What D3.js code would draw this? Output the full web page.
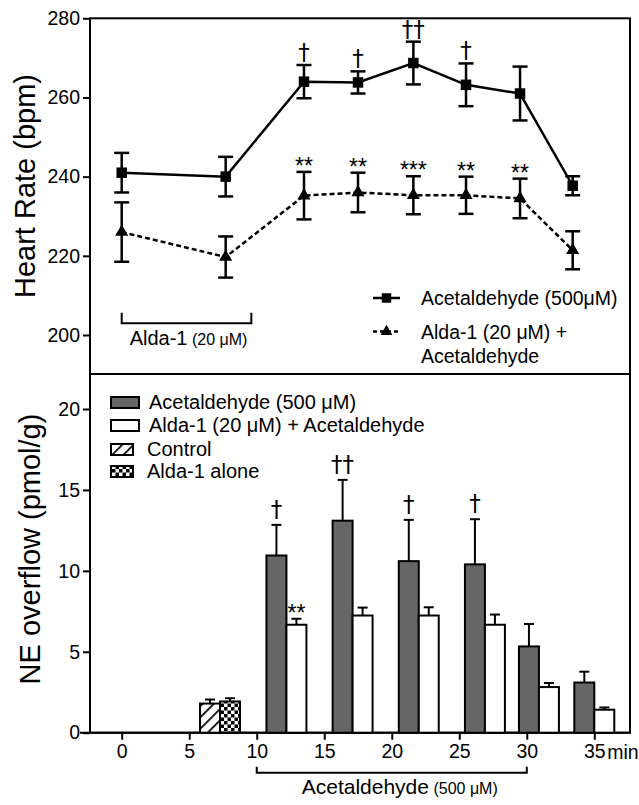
<!DOCTYPE html>
<html>
<head>
<meta charset="utf-8">
<script src="https://cdn.jsdelivr.net/npm/d3@7"></script>
<style>
  body { margin: 0; background: #fff; }
  svg text { font-family: "Liberation Sans", Arial, sans-serif; fill: #000; }
  svg text.dag { font-family: "DejaVu Sans", sans-serif; }
</style>
</head>
<body>
<div id="chart"></div>
<script>
// heart rate panel (top)
var hrTimes = [0, 7.7, 13.5, 17.5, 21.6, 25.5, 29.5, 33.4];
var hrAcet = [241, 240, 264, 263.8, 268.7, 263.2, 261, 237.7];
var hrAcetErr = [5, 5, 4.2, 2.8, 5.4, 5.4, 6.8, 2.4];
var hrAlda = [226, 219.7, 235.2, 236, 235.3, 235.3, 234.5, 221.4];
var hrAldaErr = [7.5, 5.2, 6, 5, 4.8, 4.7, 5, 4.8];
var hrAcetMarks = ["", "", "†", "†", "††", "†", "", ""];
var hrAldaMarks = ["", "", "**", "**", "***", "**", "**", ""];
var hrTicks = [200, 220, 240, 260, 280];

// NE overflow panel (bottom)
var neGroups = [12.2, 17.1, 22.0, 26.9, 30.9, 35.0];
var neAcet = [10.95, 13.1, 10.6, 10.4, 5.33, 3.1];
var neAcetErr = [1.89, 2.52, 2.55, 2.79, 1.39, 0.67];
var neAlda = [6.67, 7.24, 7.24, 6.67, 2.82, 1.42];
var neAldaErr = [0.37, 0.49, 0.51, 0.63, 0.25, 0.14];
var neAcetMarks = ["†", "††", "†", "†", "", ""];
var neAldaMarks = ["**", "", "", "", "", ""];
var baseGroup = 7.28;
var baseNames = ["Control", "Alda-1 alone"];
var baseVals = [1.8, 1.93];
var baseErr = [0.25, 0.2];
var neTicks = [0, 5, 10, 15, 20];
var timeTicks = [0, 5, 10, 15, 20, 25, 30, 35];

var W = 639, H = 805;
var left = 90, right = 630;
var topY0 = 18.3, split = 374, botY1 = 732.7;
var barW = 1.48; // minutes

var svg = d3.select("#chart").append("svg")
    .attr("width", W).attr("height", H);

var defs = svg.append("defs");
var hatch = defs.append("pattern").attr("id", "hatch")
    .attr("patternUnits", "userSpaceOnUse").attr("width", 8).attr("height", 8)
    .attr("patternTransform", "rotate(45)");
hatch.append("rect").attr("width", 8).attr("height", 8).attr("fill", "#fff");
hatch.append("line").attr("x1", 0).attr("y1", 0).attr("x2", 0).attr("y2", 8)
    .attr("stroke", "#000").attr("stroke-width", 3.5);
var checker = defs.append("pattern").attr("id", "checker")
    .attr("patternUnits", "userSpaceOnUse").attr("width", 7).attr("height", 7);
checker.append("rect").attr("width", 7).attr("height", 7).attr("fill", "#fff");
checker.append("rect").attr("width", 3.5).attr("height", 3.5).attr("fill", "#000");
checker.append("rect").attr("x", 3.5).attr("y", 3.5).attr("width", 3.5).attr("height", 3.5).attr("fill", "#000");

var x = d3.scaleLinear().domain([0, 35]).range([121.7, 594.3]);
var yTop = d3.scaleLinear().domain([200, 280]).range([335, topY0]);
var yBot = d3.scaleLinear().domain([0, 20]).range([botY1, 409]);

// ---------- top panel ----------
var gTop = svg.append("g");
gTop.append("rect").attr("x", left).attr("y", topY0)
    .attr("width", right - left).attr("height", split - topY0)
    .attr("fill", "none").attr("stroke", "#000").attr("stroke-width", 2);

var ayTop = gTop.append("g").attr("transform", "translate(" + left + ",0)")
    .call(d3.axisLeft(yTop).tickValues(hrTicks).tickSize(7).tickPadding(3));
ayTop.select(".domain").remove();

gTop.append("text")
    .attr("transform", "translate(35,186) rotate(-90)")
    .attr("text-anchor", "middle").style("font-size", "29px")
    .text("Heart Rate (bpm)");

function drawSeries(g, vals, errs, dash, symbol, size) {
    var pts = hrTimes.map(function(t, i) { return {t: t, v: vals[i], e: errs[i]}; });
    var line = d3.line().x(d => x(d.t)).y(d => yTop(d.v));
    g.append("path").datum(pts).attr("d", line)
        .attr("fill", "none").attr("stroke", "#000").attr("stroke-width", 2.5)
        .attr("stroke-dasharray", dash);
    var eb = g.selectAll(null).data(pts).enter().append("g");
    eb.append("line").attr("x1", d => x(d.t)).attr("x2", d => x(d.t))
        .attr("y1", d => yTop(d.v - d.e)).attr("y2", d => yTop(d.v + d.e));
    eb.append("line").attr("x1", d => x(d.t) - 7.5).attr("x2", d => x(d.t) + 7.5)
        .attr("y1", d => yTop(d.v + d.e)).attr("y2", d => yTop(d.v + d.e));
    eb.append("line").attr("x1", d => x(d.t) - 7.5).attr("x2", d => x(d.t) + 7.5)
        .attr("y1", d => yTop(d.v - d.e)).attr("y2", d => yTop(d.v - d.e));
    eb.selectAll("line").attr("stroke", "#000").attr("stroke-width", 2.5);
    g.selectAll(null).data(pts).enter().append("path")
        .attr("d", d3.symbol().type(symbol).size(size))
        .attr("transform", d => "translate(" + x(d.t) + "," + yTop(d.v) + ")")
        .attr("fill", "#000");
    return pts;
}
var ptsAcet = drawSeries(gTop, hrAcet, hrAcetErr, null, d3.symbolSquare, 110);
var ptsAlda = drawSeries(gTop, hrAlda, hrAldaErr, "5,3", d3.symbolTriangle, 75);

gTop.selectAll(null).data(ptsAcet).enter().append("text")
    .attr("class", "dag")
    .attr("x", d => x(d.t)).attr("y", d => yTop(d.v + d.e) - 5)
    .attr("text-anchor", "middle").style("font-size", "23px")
    .text((d, i) => hrAcetMarks[i]);
gTop.selectAll(null).data(ptsAlda).enter().append("text")
    .attr("x", d => x(d.t)).attr("y", d => yTop(d.v + d.e) + 2)
    .attr("text-anchor", "middle").style("font-size", "23px")
    .text((d, i) => hrAldaMarks[i]);

// Alda-1 bracket
var brTop = [0, 9.6];
gTop.append("path")
    .attr("d", "M" + x(brTop[0]) + ",312.7V323.3H" + x(brTop[1]) + "V312.7")
    .attr("fill", "none").attr("stroke", "#000").attr("stroke-width", 2);
var tAlda = gTop.append("text").attr("x", (x(brTop[0]) + x(brTop[1])) / 2 + 2).attr("y", 345)
    .attr("text-anchor", "middle").style("font-size", "20px");
tAlda.append("tspan").text("Alda-1");
tAlda.append("tspan").style("font-size", "16px").text(" (20 μM)");

// top legend
var legTop = [
    {label: ["Acetaldehyde (500μM)"], dash: null, sym: d3.symbolSquare, size: 90, y: 298},
    {label: ["Alda-1 (20 μM) +", "Acetaldehyde"], dash: "4,3", sym: d3.symbolTriangle, size: 60, y: 331.5}
];
legTop.forEach(function(l) {
    gTop.append("line").attr("x1", 373).attr("x2", 400).attr("y1", l.y).attr("y2", l.y)
        .attr("stroke", "#000").attr("stroke-width", 2.5).attr("stroke-dasharray", l.dash);
    gTop.append("path").attr("d", d3.symbol().type(l.sym).size(l.size)())
        .attr("transform", "translate(386.5," + l.y + ")");
    l.label.forEach(function(s, k) {
        gTop.append("text").attr("x", 421).attr("y", l.y + 7 + k * 24)
            .style("font-size", "19.5px").text(s);
    });
});

// ---------- bottom panel ----------
var gBot = svg.append("g");
gBot.append("rect").attr("x", left).attr("y", split)
    .attr("width", right - left).attr("height", botY1 - split)
    .attr("fill", "none").attr("stroke", "#000").attr("stroke-width", 2);

var ayBot = gBot.append("g").attr("transform", "translate(" + left + ",0)")
    .call(d3.axisLeft(yBot).tickValues(neTicks).tickSize(7).tickPadding(3));
ayBot.select(".domain").remove();

var axBot = gBot.append("g").attr("transform", "translate(0," + botY1 + ")")
    .call(d3.axisBottom(x).tickValues(timeTicks).tickSize(7).tickPadding(4));
axBot.select(".domain").remove();
gBot.append("line").attr("x1", 80).attr("x2", right).attr("y1", botY1).attr("y2", botY1)
    .attr("stroke", "#000").attr("stroke-width", 2);
gBot.append("text").attr("x", x(35) + 13).attr("y", botY1 + 26)
    .style("font-size", "19.5px").text("min");

svg.selectAll(".tick text").style("font-size", "19.5px");
svg.selectAll(".tick line").attr("stroke-width", 2);

gBot.append("text")
    .attr("transform", "translate(40,549) rotate(-90)")
    .attr("text-anchor", "middle").style("font-size", "29px")
    .text("NE overflow (pmol/g)");

function bar(g, x0, x1, v, e, fill, mark, markOff, markSize, cls) {
    g.append("line").attr("x1", (x0 + x1) / 2).attr("x2", (x0 + x1) / 2)
        .attr("y1", yBot(v)).attr("y2", yBot(v + e))
        .attr("stroke", "#000").attr("stroke-width", 2);
    g.append("line").attr("x1", (x0 + x1) / 2 - 5).attr("x2", (x0 + x1) / 2 + 5)
        .attr("y1", yBot(v + e)).attr("y2", yBot(v + e))
        .attr("stroke", "#000").attr("stroke-width", 2);
    g.append("rect").attr("x", x0).attr("y", yBot(v))
        .attr("width", x1 - x0).attr("height", yBot(0) - yBot(v))
        .attr("fill", fill).attr("stroke", "#000").attr("stroke-width", 2);
    if (mark) {
        g.append("text").attr("class", cls).attr("x", (x0 + x1) / 2).attr("y", yBot(v + e) + markOff)
            .attr("text-anchor", "middle").style("font-size", markSize).text(mark);
    }
}

neGroups.forEach(function(c, i) {
    bar(gBot, x(c - barW), x(c), neAcet[i], neAcetErr[i], "#666666", neAcetMarks[i], -8, "23px", "dag");
    bar(gBot, x(c), x(c + barW), neAlda[i], neAldaErr[i], "#fff", neAldaMarks[i], 2, "23px", "");
});
bar(gBot, x(baseGroup - barW), x(baseGroup), baseVals[0], baseErr[0], "url(#hatch)", "", 0, "", "");
bar(gBot, x(baseGroup), x(baseGroup + barW), baseVals[1], baseErr[1], "url(#checker)", "", 0, "", "");

// acetaldehyde bracket
var brBot = [10, 30];
gBot.append("path")
    .attr("d", "M" + x(brBot[0]) + ",766.7V772.7H" + x(brBot[1]) + "V766.7")
    .attr("fill", "none").attr("stroke", "#000").attr("stroke-width", 2);
var tAc = gBot.append("text").attr("x", (x(brBot[0]) + x(brBot[1])) / 2 + 8).attr("y", 794)
    .attr("text-anchor", "middle").style("font-size", "21px");
tAc.append("tspan").text("Acetaldehyde");
tAc.append("tspan").style("font-size", "16px").text(" (500 μM)");

// bottom legend
var legBot = [
    {label: "Acetaldehyde (500 μM)", fill: "#666666", w: 28, tx: 149, y: 397},
    {label: "Alda-1 (20 μM) + Acetaldehyde", fill: "#fff", w: 28, tx: 149, y: 420},
    {label: baseNames[0], fill: "url(#hatch)", w: 22, tx: 147, y: 444},
    {label: baseNames[1], fill: "url(#checker)", w: 22, tx: 147, y: 466}
];
legBot.forEach(function(l) {
    gBot.append("rect").attr("x", 111).attr("y", l.y).attr("width", l.w).attr("height", 11)
        .attr("fill", l.fill).attr("stroke", "#000").attr("stroke-width", 2);
    gBot.append("text").attr("x", l.tx).attr("y", l.y + 12)
        .style("font-size", "20px").text(l.label);
});
</script>
</body>
</html>
